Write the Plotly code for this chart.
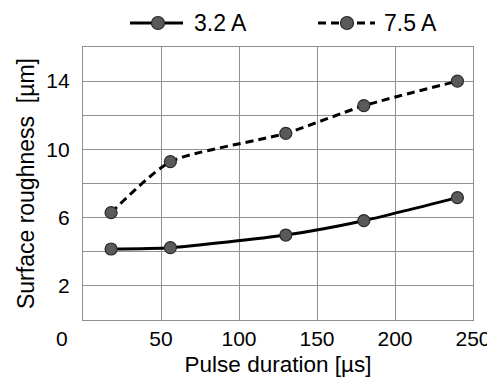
import plotly.graph_objects as go

pulse_duration = [18, 56, 130, 180, 240]
rough_32 = [4.16, 4.24, 4.98, 5.82, 7.17]
rough_75 = [6.29, 9.28, 10.94, 12.56, 14.0]
series_names = ["3.2 A", "7.5 A"]
y_tickvals = [0, 2, 4, 6, 8, 10, 12, 14, 16]
y_ticktext = ["", "2", "", "6", "", "10", "", "14", ""]
x_tickvals = [0, 50, 100, 150, 200, 250]
x_ticktext = ["", "50", "100", "150", "200", "250"]

FONT = "Liberation Sans, Arial, sans-serif"
GRID = "#8f8f8f"
MARK_FILL = "#5a5a5a"
MARK_EDGE = "#2a2a2a"
dashes = [None, "8px,5px"]

# plot area in pixels
L, R, T, B = 83, 473, 47, 320
W, H = R - L, B - T
def px(x):
    return (x - L) / W
def py(y):
    return (B - y) / H

fig = go.Figure()
for name, vals, dash in zip(series_names, [rough_32, rough_75], dashes):
    fig.add_trace(go.Scatter(
        x=pulse_duration, y=vals, name=name, mode="lines+markers",
        line=dict(color="black", width=3, shape="spline", smoothing=0.6, dash=dash),
        marker=dict(size=12, color=MARK_FILL, line=dict(color=MARK_EDGE, width=1.2)),
    ))

# custom legend (longer line samples like the original)
legend_items = [
    (130, 183, 158, 192),
    (318, 375, 347, 382),
]
ly = 23
for (x0, x1, xm, xt), name, dash in zip(legend_items, series_names, dashes):
    fig.add_shape(type="line", xref="paper", yref="paper",
                  x0=px(x0), x1=px(x1), y0=py(ly), y1=py(ly),
                  line=dict(color="black", width=3, dash=dash or "solid"))
    fig.add_shape(type="circle", xref="paper", yref="paper",
                  xsizemode="pixel", ysizemode="pixel",
                  xanchor=px(xm), yanchor=py(ly), x0=-6.5, x1=6.5, y0=-6.5, y1=6.5,
                  fillcolor=MARK_FILL, line=dict(color=MARK_EDGE, width=1.2))
    fig.add_annotation(xref="paper", yref="paper", x=px(xt), y=py(ly),
                       xanchor="left", yanchor="middle", text=name, showarrow=False,
                       font=dict(size=23, color="black", family=FONT))

fig.add_annotation(x=0, y=0, xref="x", yref="y", text="0", showarrow=False,
                   xshift=-21, yshift=-18, font=dict(size=21, color="black", family=FONT))

fig.update_layout(
    width=487, height=379,
    margin=dict(l=L, r=487 - R, t=T, b=379 - B, autoexpand=False),
    paper_bgcolor="white", plot_bgcolor="white",
    font=dict(family=FONT, size=21, color="black"),
    showlegend=False,
    xaxis=dict(range=[0, 250], tickvals=x_tickvals, ticktext=x_ticktext,
               showgrid=True, gridcolor=GRID, gridwidth=1.3, automargin=False,
               showline=True, linecolor=GRID, linewidth=1.3, mirror=True,
               zeroline=False, ticks="", ticklabelstandoff=0, ticklabeloverflow="allow",
               title=dict(text="Pulse duration [µs]", font=dict(size=22.5), standoff=6)),
    yaxis=dict(range=[0, 16], tickvals=y_tickvals, ticktext=y_ticktext,
               showgrid=True, gridcolor=GRID, gridwidth=1.3, automargin=False,
               showline=True, linecolor=GRID, linewidth=1.3, mirror=True,
               zeroline=False, ticks="", ticklabelstandoff=8,
               title=dict(text="Surface roughness  [µm]", font=dict(size=23), standoff=5)),
)

fig.write_html("out.html")
